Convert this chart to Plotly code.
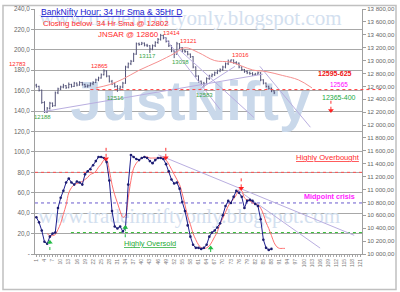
import plotly.graph_objects as go

# ---------------- data ----------------
BAR_X = list(range(1, 90))
OPEN = [12620, 12600, 12540, 12350, 12200, 12260, 12340, 12300, 12500, 12560,
        12590, 12610, 12580, 12630, 12600, 12650, 12620, 12660, 12630, 12600,
        12610, 12640, 12660, 12700, 12730, 12780, 12840, 12760, 12680, 12640,
        12600, 12560, 12590, 12650, 12900, 12950, 12990, 13100, 13260, 13250,
        13270, 13240, 13230, 13180, 13230, 13280, 13330, 13390, 13350, 13300,
        13230, 13150, 13100, 13260, 13200, 13150, 13140, 13100, 13060, 12900,
        12760, 12680, 12650, 12640, 12720, 12760, 12780, 12810, 12840, 12860,
        12900, 12950, 12990, 13010, 12970, 12960, 12900, 12860, 12830, 12810,
        12800, 12780, 12790, 12810, 12700, 12650, 12600, 12570, 12530]
HIGH = [12640, 12610, 12550, 12370, 12280, 12360, 12350, 12520, 12580, 12610,
        12640, 12620, 12660, 12640, 12670, 12660, 12680, 12670, 12640, 12630,
        12660, 12680, 12720, 12750, 12800, 12865, 12850, 12770, 12700, 12660,
        12620, 12610, 12670, 12920, 12970, 13010, 13120, 13280, 13280, 13290,
        13280, 13260, 13240, 13250, 13300, 13350, 13414, 13400, 13360, 13310,
        13240, 13160, 13290, 13270, 13210, 13170, 13150, 13110, 13070, 12910,
        12770, 12690, 12670, 12740, 12780, 12800, 12830, 12860, 12880, 12920,
        12970, 13016, 13016, 13016, 12990, 12970, 12910, 12870, 12850, 12830,
        12820, 12810, 12830, 12820, 12710, 12660, 12610, 12580, 12540]
LOW = [12580, 12520, 12330, 12188, 12190, 12240, 12280, 12290, 12480, 12540,
       12570, 12560, 12570, 12580, 12590, 12600, 12610, 12610, 12580, 12580,
       12600, 12620, 12650, 12680, 12720, 12770, 12740, 12660, 12620, 12580,
       12516, 12540, 12570, 12640, 12880, 12930, 12980, 13090, 13230, 13240,
       13220, 13210, 13117, 13160, 13210, 13260, 13310, 13330, 13280, 13210,
       13130, 13038, 13090, 13180, 13130, 13120, 13080, 13040, 12880, 12740,
       12660, 12620, 12583, 12630, 12700, 12740, 12760, 12790, 12820, 12840,
       12880, 12930, 12970, 12950, 12940, 12880, 12840, 12810, 12790, 12780,
       12760, 12770, 12780, 12680, 12630, 12580, 12550, 12510, 12480]
CLOSE = [12600, 12540, 12350, 12200, 12260, 12340, 12300, 12500, 12560, 12590,
         12610, 12580, 12630, 12600, 12650, 12620, 12660, 12630, 12600, 12610,
         12640, 12660, 12700, 12730, 12780, 12840, 12760, 12680, 12640, 12600,
         12560, 12590, 12650, 12900, 12950, 12990, 13100, 13260, 13250, 13270,
         13240, 13230, 13180, 13230, 13280, 13330, 13390, 13350, 13300, 13230,
         13150, 13100, 13260, 13200, 13150, 13140, 13100, 13060, 12900, 12760,
         12680, 12650, 12640, 12720, 12760, 12780, 12810, 12840, 12860, 12900,
         12950, 12990, 13010, 12970, 12960, 12900, 12860, 12830, 12810, 12800,
         12780, 12790, 12810, 12700, 12650, 12600, 12570, 12530, 12500]

SMA_X = [23, 28, 33, 39, 46, 52, 56, 61, 67, 73, 81, 86, 92, 98, 103]
SMA_Y = [12576, 12626, 12713, 12850, 12982, 13109, 13200, 13124, 13000, 12975,
         12855, 12830, 12770, 12700, 12576]

OSC_X = list(range(1, 89))
OSC = [36, 31, 23, 12, 10, 17, 20, 21, 45, 55, 62, 70, 74, 70, 68, 71, 70, 68, 78, 81,
       83, 87, 91, 95, 95, 94, 90, 72, 42, 27, 25, 27, 22, 26, 68, 97, 95, 93, 92, 94,
       95, 94, 91, 89, 92, 94, 94, 93, 88, 81, 73, 69, 70, 64, 51, 42, 28, 17, 9, 6,
       6, 5, 6, 9, 17, 21, 23, 26, 30, 38, 47, 52, 50, 56, 62, 60, 56, 45, 52, 53,
       52, 49, 47, 34, 14, 6, 4, 5]
SIG_X = list(range(5, 94))
SIG = [20, 18, 18, 19, 24, 30, 39, 48, 60, 65, 68, 69, 70, 71, 73, 75, 78, 79, 81, 85,
       88, 92, 92, 82, 68, 58, 50, 42, 36, 38, 55, 72, 84, 89, 92, 94, 95, 95, 94, 94,
       94, 94, 95, 94, 92, 88, 83, 78, 73, 68, 59, 48, 37, 29, 20, 14, 9, 6, 5.5, 6,
       8, 12, 17, 22, 30, 35, 41, 47, 51, 54, 58, 63, 62, 55, 53, 52, 50, 49, 48, 45,
       39, 31, 25, 18, 11, 7, 5.5, 5.5, 5.5]

# trend lines: (x0, y0, x1, y1)
PRICE_TRENDS = [(3.8, 12210, 84.8, 12789), (48.3, 13368, 69.0, 12240),
                (53.5, 13185, 81.5, 12118), (83.7, 12911, 102.4, 11966),
                (61.6, 12560, 74.5, 12911)]
OSC_TRENDS = [(46.1, 97.2, 118.6, 18.3), (75.6, 62.6, 106.0, 5.8)]

# levels
PRICE_LEVEL = 12550
OB_LEVEL = 80
MID_LEVEL = 50
OS_LEVEL = 21

# signal arrows: (x, tail, head)
DOWN_ARROWS_OSC = [(26.8, 104, 93.4), (48.9, 104, 94.3), (76.8, 74.1, 64.5)]
UP_ARROWS_OSC = [(6.0, 3.9, 11.6), (33.9, 16.4, 26.0), (65.5, -3.9, 5.8)]
DOWN_ARROWS_PRICE = [(110, 12377, 12225)]

X_TICKS = list(range(1, 122, 3))
X_TICK_LABELS = [str(v) for v in X_TICKS]
LEFT_TICKS = list(range(0, 241, 20))
LEFT_LABELS = ["-"] + [f"{v},0" for v in range(20, 241, 20)]
RIGHT_TICKS = list(range(10000, 13801, 200))
RIGHT_LABELS = [f"{v // 1000} {v % 1000:03d},00" for v in RIGHT_TICKS]

# ---------------- layout geometry ----------------
W, H = 400, 292
ML, MR, MT, MB = 35, 38, 5, 38
PW, PH = W - ML - MR, H - MT - MB


def px(x):
    return (x - ML) / PW


def py(y):
    return (H - MB - y) / PH


FONT = "Liberation Sans"
LAV = "#b9aee0"

fig = go.Figure()

# watermarks
fig.add_trace(go.Scatter(x=[58], y=[229], mode="text", text=["www.tradeinniftyonly.blogspot.com"],
                         textfont=dict(family="Liberation Serif", size=21, color="#d3e0ef"),
                         hoverinfo="skip", showlegend=False))
fig.add_trace(go.Scatter(x=[57.5], y=[36], mode="text", text=["www.tradeinniftyonly.blogspot.com"],
                         textfont=dict(family="Liberation Serif", size=21, color="#d3e0ef"),
                         hoverinfo="skip", showlegend=False))
fig.add_trace(go.Scatter(x=[58], y=[145], mode="text", text=["<b>JustNifty</b>"],
                         textfont=dict(family=FONT, size=56, color="#c9d8ea"),
                         hoverinfo="skip", showlegend=False))

# oscillator level lines
fig.add_trace(go.Scatter(x=[0.5, 121.5], y=[OB_LEVEL] * 2, mode="lines",
                         line=dict(color="#ff5050", width=1, dash="dot"), hoverinfo="skip", showlegend=False))
fig.add_trace(go.Scatter(x=[0.5, 121.5], y=[MID_LEVEL] * 2, mode="lines",
                         line=dict(color="#6a5acd", width=1, dash="dot"), hoverinfo="skip", showlegend=False))
fig.add_trace(go.Scatter(x=[13.8, 121.5], y=[OS_LEVEL] * 2, mode="lines",
                         line=dict(color="#33bb33", width=1, dash="dot"), hoverinfo="skip", showlegend=False))

# oscillator trend lines
for x0, y0, x1, y1 in OSC_TRENDS:
    fig.add_trace(go.Scatter(x=[x0, x1], y=[y0, y1], mode="lines", line=dict(color=LAV, width=1),
                             hoverinfo="skip", showlegend=False))

# oscillator lines
fig.add_trace(go.Scatter(x=SIG_X, y=SIG, mode="lines", line=dict(color="#ff7070", width=1, shape="spline"),
                         showlegend=False))
fig.add_trace(go.Scatter(x=OSC_X, y=OSC, mode="lines+markers", line=dict(color="#1c1c8c", width=1),
                         marker=dict(size=2.6, color="#1c1c70"), showlegend=False))

# price: trend lines, sma, level, bars
for x0, y0, x1, y1 in PRICE_TRENDS:
    fig.add_trace(go.Scatter(x=[x0, x1], y=[y0, y1], yaxis="y2", mode="lines", line=dict(color=LAV, width=1),
                             hoverinfo="skip", showlegend=False))
fig.add_trace(go.Scatter(x=SMA_X, y=SMA_Y, yaxis="y2", mode="lines",
                         line=dict(color="#f59090", width=1, shape="spline"), showlegend=False))
fig.add_trace(go.Ohlc(x=BAR_X, open=OPEN, high=HIGH, low=LOW, close=CLOSE, yaxis="y2",
                      increasing=dict(line=dict(color="#55557a", width=1)),
                      decreasing=dict(line=dict(color="#55557a", width=1)),
                      tickwidth=0.35, showlegend=False))

# arrows
for x, t, h in DOWN_ARROWS_OSC:
    fig.add_trace(go.Scatter(x=[x, x], y=[t, h], mode="lines", line=dict(color="#ff3030", width=1, dash="dot"),
                             hoverinfo="skip", showlegend=False))
    fig.add_trace(go.Scatter(x=[x], y=[h], mode="markers", marker=dict(symbol="triangle-down", size=5, color="#ff2020"),
                             hoverinfo="skip", showlegend=False))
for x, t, h in UP_ARROWS_OSC:
    fig.add_trace(go.Scatter(x=[x, x], y=[t, h], mode="lines", line=dict(color="#22bb44", width=1, dash="dot"),
                             hoverinfo="skip", showlegend=False, cliponaxis=False))
    fig.add_trace(go.Scatter(x=[x], y=[h], mode="markers", marker=dict(symbol="triangle-up", size=5, color="#22bb44"),
                             hoverinfo="skip", showlegend=False))
for x, t, h in DOWN_ARROWS_PRICE:
    fig.add_trace(go.Scatter(x=[x, x], y=[t, h], yaxis="y2", mode="lines",
                             line=dict(color="#ff3030", width=1, dash="dot"), hoverinfo="skip", showlegend=False))
    fig.add_trace(go.Scatter(x=[x], y=[h], yaxis="y2", mode="markers",
                             marker=dict(symbol="triangle-down", size=5, color="#ff2020"),
                             hoverinfo="skip", showlegend=False))

# price level dotted line (runs slightly past the right axis)
lvl_y = (PRICE_LEVEL - RIGHT_TICKS[0]) / (RIGHT_TICKS[-1] - RIGHT_TICKS[0])
shapes = [
    dict(type="line", xref="paper", yref="paper", x0=(21 - 0.5) / 121, x1=px(381), y0=lvl_y, y1=lvl_y,
         line=dict(color="#ff4040", width=1, dash="dot")),
    dict(type="rect", xref="paper", yref="paper", x0=px(3), x1=px(396), y0=py(290), y1=py(1.5),
         line=dict(color="#c0c0c0", width=1.5), fillcolor="rgba(0,0,0,0)", layer="below"),
]


def ann(text, x, y, color, size, bold=False, under=False, family=FONT):
    t = text
    if under:
        t = f"<u>{t}</u>"
    if bold:
        t = f"<b>{t}</b>"
    return dict(text=t, x=px(x), y=py(y), xref="paper", yref="paper", showarrow=False,
                xanchor="center", yanchor="middle", font=dict(family=family, size=size, color=color))


RED = "#ff2a2a"
GRN = "#3aa64a"
annotations = [
    ann("BankNifty Hour; 34 Hr Sma & 35Hr D", 111, 8, "#2020d0", 8.6, under=True),
    ann("Closing below  34 Hr Sma @ 12802", 105.5, 19.5, RED, 7.9),
    ann("JNSAR @ 12860", 128, 30.7, RED, 7.9),
    ann("12783", 17.5, 60.5, RED, 6),
    ann("12865", 99.5, 62.5, RED, 6),
    ann("13414", 171.5, 29.5, RED, 6),
    ann("13121", 188.5, 37.5, RED, 6),
    ann("13016", 240.5, 52, RED, 6),
    ann("13117", 147.5, 53, GRN, 6),
    ann("13038", 180.5, 59, GRN, 6),
    ann("12516", 115.5, 95, GRN, 6),
    ann("12188", 42.5, 115, GRN, 6),
    ann("12583", 204, 92, GRN, 6),
    ann("12595-625", 335, 71, "#ee1111", 7, bold=True),
    ann("12565", 338.5, 82, "#ff00ff", 6.4),
    ann("12365-400", 338.5, 94.5, "#22aa44", 7),
    ann("Highly Overbought", 327.5, 156, RED, 7.6, under=True),
    ann("Midpoint crisis", 329.5, 196, "#ff22ff", 7.2, bold=True),
    ann("Highly Oversold", 149.5, 243.7, "#22aa33", 7.4, under=True),
]

fig.update_layout(
    width=W, height=H, margin=dict(l=ML, r=MR, t=MT, b=MB),
    paper_bgcolor="white", plot_bgcolor="white", showlegend=False,
    shapes=shapes, annotations=annotations,
    xaxis=dict(range=[0.5, 121.5], tickmode="array", tickvals=X_TICKS, ticktext=X_TICK_LABELS,
               tickangle=-90, tickfont=dict(family=FONT, size=5, color="#777"),
               showgrid=False, zeroline=False, showline=True, linecolor="#a0a0a0", linewidth=1,
               ticks="outside", ticklen=2, tickcolor="#a0a0a0",
               minor=dict(tickvals=list(range(1, 122)), ticklen=2, tickcolor="#b0b0b0", ticks="outside"),
               rangeslider=dict(visible=False), fixedrange=True),
    yaxis=dict(range=[0, 240], tickmode="array", tickvals=LEFT_TICKS, ticktext=LEFT_LABELS,
               tickfont=dict(family=FONT, size=6.3, color="#666"), showgrid=True, gridcolor="#a8a8a8",
               gridwidth=1, zeroline=False, showline=True, linecolor="#a0a0a0", ticks="outside",
               ticklen=3, tickcolor="#a0a0a0"),
    yaxis2=dict(range=[10000, 13800], overlaying="y", side="right", tickmode="array",
                tickvals=RIGHT_TICKS, ticktext=RIGHT_LABELS,
                tickfont=dict(family=FONT, size=6.1, color="#666"), showgrid=False, zeroline=False,
                showline=True, linecolor="#a0a0a0", ticks="outside", ticklen=3, tickcolor="#a0a0a0"),
)

fig.write_html("out.html")
